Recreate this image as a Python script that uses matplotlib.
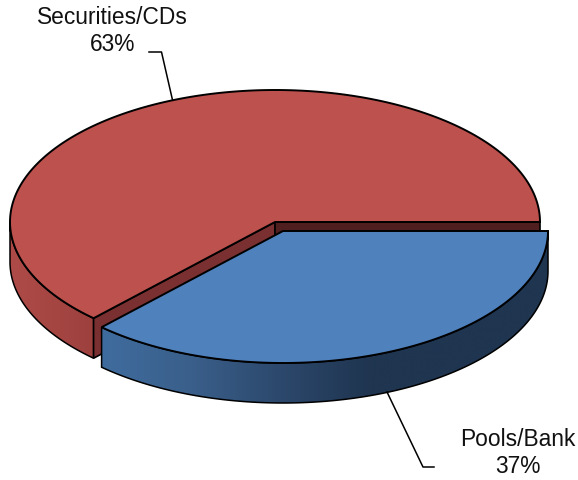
import numpy as np
import matplotlib
matplotlib.use("Agg")
import matplotlib.pyplot as plt
from matplotlib.colors import LinearSegmentedColormap
from matplotlib.patches import Polygon

labels = ["Pools/Bank", "Securities/CDs"]
shares = [37, 63]

# pie geometry, in pixels
rx = 265
ry = 132
depth = 40
red_center = (275, 223)
blue_center = (283, 232)

plt.rcParams["font.family"] = ["Liberation Sans", "DejaVu Sans"]

fig = plt.figure(figsize=(5.78, 4.81), dpi=100)
ax = fig.add_axes([0, 0, 1, 1])


def arc(center, start, end, drop=0):
    # points on the ellipse rim, angles run clockwise from 3 o'clock
    t = np.radians(np.linspace(start, end, 200))
    return np.column_stack([center[0] + rx * np.cos(t), center[1] + drop + ry * np.sin(t)])


def side_wall(center, start, end):
    top = arc(center, start, end)
    bottom = arc(center, start, end, depth)
    return np.vstack([top, bottom[::-1]])


def gradient_side(points, stops, zorder):
    # horizontal colour ramp clipped to the rim shape
    cmap = LinearSegmentedColormap.from_list("side", stops)
    x0, x1 = points[:, 0].min(), points[:, 0].max()
    y0, y1 = points[:, 1].min(), points[:, 1].max()
    img = ax.imshow(np.linspace(0, 1, 256).reshape(1, -1), cmap=cmap, aspect="auto",
                    extent=(x0, x1, y1, y0), zorder=zorder)
    outline = Polygon(points, closed=True, fc="none", ec="black", lw=1.1, zorder=zorder + 1)
    ax.add_patch(outline)
    img.set_clip_path(outline)


split = shares[0] / sum(shares) * 360

# red slice: rim, the two cut walls, then the top
gradient_side(side_wall(red_center, split, 180), ["#ae4b48", "#9d413e"], 2)

tip = arc(red_center, split, split)[0]
cx, cy = red_center
ax.add_patch(Polygon([(cx, cy), tip, (tip[0], tip[1] + depth), (cx, cy + depth)],
                     fc="#7a3030", ec="black", lw=1.2, zorder=4))
ax.add_patch(Polygon([(cx, cy), (cx + rx, cy), (cx + rx, cy + depth), (cx, cy + depth)],
                     fc="#4f1e1f", ec="black", lw=1.2, zorder=4))
red_top = np.vstack([[red_center], arc(red_center, split, 360)])
ax.add_patch(Polygon(red_top, fc="#bd514e", ec="black", lw=1.4, zorder=5))

# blue slice, pulled out toward the lower right
blue_side = side_wall(blue_center, split, 0)
gradient_side(blue_side, ["#3f6c9e", "#3a5f8a", "#2c486c", "#1f3550", "#1f3550", "#1f3550"], 6)
blue_top = np.vstack([[blue_center], arc(blue_center, 0, split)])
ax.add_patch(Polygon(blue_top, fc="#4f81bd", ec="black", lw=1.4, zorder=8))

# leader lines and labels
ax.plot([172.5, 161.5, 149], [101, 53, 53], color="black", lw=1.1, zorder=9)
ax.plot([387, 423, 434], [393, 468, 468], color="black", lw=1.1, zorder=9)
ax.text(112.5, 31, f"{labels[1]}\n{shares[1]}%", ha="center", va="center", fontsize=16.4,
        linespacing=1.24, color="#111111")
ax.text(518, 453, f"{labels[0]}\n{shares[0]}%", ha="center", va="center", fontsize=16.4,
        linespacing=1.24, color="#111111")

ax.set_xlim(0, 578)
ax.set_ylim(481, 0)
ax.axis("off")

fig.savefig("out.png", dpi=100, facecolor="white")
